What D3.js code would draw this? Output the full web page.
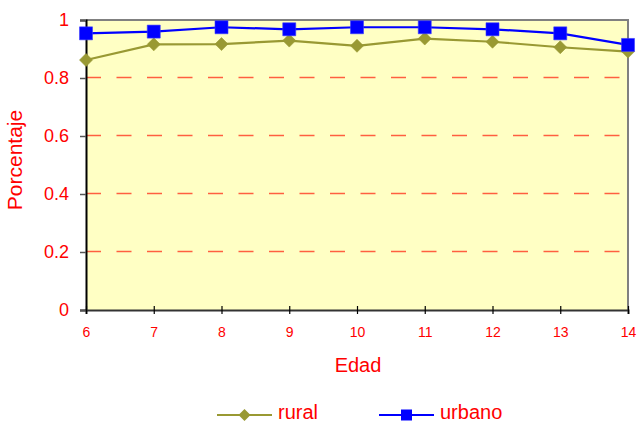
<!DOCTYPE html>
<html>
<head>
<meta charset="utf-8">
<script src="https://cdn.jsdelivr.net/npm/d3@7"></script>
<style>
  html, body { margin: 0; padding: 0; background: #ffffff; }
  svg { display: block; font-family: "Liberation Sans", Arial, sans-serif; }
</style>
</head>
<body>
<svg id="chart" width="638" height="424"></svg>
<script>
// Edad (años) y proporción por zona
const edades = [6, 7, 8, 9, 10, 11, 12, 13, 14];
const rural  = [0.862, 0.916, 0.917, 0.929, 0.911, 0.936, 0.925, 0.906, 0.891];
const urbano = [0.954, 0.960, 0.975, 0.968, 0.975, 0.975, 0.968, 0.954, 0.914];
const yTicks = [0, 0.2, 0.4, 0.6, 0.8, 1];
const gridValues = [0.2, 0.4, 0.6, 0.8];

const series = [
  { name: "rural",  values: rural,  color: "#999933", marker: "diamond" },
  { name: "urbano", values: urbano, color: "#0000ff", marker: "square" }
];

const svg = d3.select("#chart");
const plot = { left: 86, top: 20, right: 628, bottom: 310 };

const x = d3.scaleLinear().domain([d3.min(edades), d3.max(edades)]).range([plot.left, plot.right]);
const y = d3.scaleLinear().domain([0, 1]).range([plot.bottom, plot.top]);

// fondo del área de trazado
svg.append("rect")
  .attr("x", plot.left).attr("y", plot.top)
  .attr("width", plot.right - plot.left).attr("height", plot.bottom - plot.top)
  .attr("fill", "#ffffc4");

// líneas de referencia discontinuas
svg.append("g").selectAll("line").data(gridValues).join("line")
  .attr("x1", plot.left).attr("x2", plot.right)
  .attr("y1", d => Math.round(y(d)) - 0.5).attr("y2", d => Math.round(y(d)) - 0.5)
  .attr("stroke", "#ff5f40").attr("stroke-width", 1.3)
  .attr("stroke-dasharray", "15,15.5");

// bordes superior y derecho
svg.append("path")
  .attr("d", `M${plot.left},${plot.top}H${plot.right}V${plot.bottom}`)
  .attr("fill", "none").attr("stroke", "#808080").attr("stroke-width", 2);

// eje Y
const yAxis = svg.append("g")
  .attr("transform", `translate(${plot.left},0)`)
  .call(d3.axisLeft(y).tickValues(yTicks).tickSize(6).tickPadding(11)
        .tickFormat(d => d3.format("")(d)));
yAxis.select(".domain").attr("stroke", "#000").attr("stroke-width", 2);
yAxis.selectAll(".tick line").attr("stroke", "#555").attr("stroke-width", 1.5);
yAxis.selectAll(".tick text")
  .attr("fill", "#ff0000").attr("font-size", 18)
  .attr("font-family", "Liberation Sans, Arial, sans-serif");

// eje X
const xAxis = svg.append("g")
  .attr("transform", `translate(0,${plot.bottom})`)
  .call(d3.axisBottom(x).tickValues(edades).tickSize(4).tickPadding(13).tickFormat(d3.format("d")));
xAxis.select(".domain").attr("stroke", "#333").attr("stroke-width", 2);
xAxis.selectAll(".tick line").attr("y1", -4).attr("stroke", "#000").attr("stroke-width", 1.2);
xAxis.selectAll(".tick text")
  .attr("fill", "#ff0000").attr("font-size", 14)
  .attr("font-family", "Liberation Sans, Arial, sans-serif");

// títulos de ejes
svg.append("text")
  .attr("transform", "translate(22,160) rotate(-90)")
  .attr("text-anchor", "middle")
  .attr("fill", "#ff0000").attr("font-size", 21)
  .text("Porcentaje");
svg.append("text")
  .attr("x", 358).attr("y", 372)
  .attr("text-anchor", "middle")
  .attr("fill", "#ff0000").attr("font-size", 20)
  .text("Edad");

// símbolos
function markerPath(type, size) {
  const h = size / 2;
  if (type === "square") return `M${-h},${-h}H${h}V${h}H${-h}Z`;
  return `M0,${-h}L${h},0L0,${h}L${-h},0Z`;
}

const line = d3.line().x((d, i) => x(edades[i])).y(d => y(d));

series.forEach(s => {
  svg.append("path")
    .datum(s.values)
    .attr("d", line)
    .attr("fill", "none")
    .attr("stroke", s.color)
    .attr("stroke-width", 2.2);
  svg.append("g").selectAll("path").data(s.values).join("path")
    .attr("transform", (d, i) => `translate(${x(edades[i])},${y(d)})`)
    .attr("d", markerPath(s.marker, s.marker === "square" ? 13 : 13))
    .attr("fill", s.color)
    .attr("stroke", s.marker === "square" ? "#3a3aff" : s.color)
    .attr("stroke-width", 0.6);
});

// leyenda
const legendItems = [
  { s: series[0], x0: 217, x1: 272, tx: 278 },
  { s: series[1], x0: 379, x1: 434, tx: 440 }
];
const ly = 415;
const lg = svg.append("g");
legendItems.forEach(it => {
  lg.append("line")
    .attr("x1", it.x0).attr("x2", it.x1).attr("y1", ly).attr("y2", ly)
    .attr("stroke", it.s.color).attr("stroke-width", 2.2);
  lg.append("path")
    .attr("transform", `translate(${(it.x0 + it.x1) / 2},${ly})`)
    .attr("d", markerPath(it.s.marker, it.s.marker === "square" ? 11 : 12))
    .attr("fill", it.s.color);
  lg.append("text")
    .attr("x", it.tx).attr("y", 419)
    .attr("fill", "#ff0000").attr("font-size", 20)
    .text(it.s.name);
});
</script>
</body>
</html>
